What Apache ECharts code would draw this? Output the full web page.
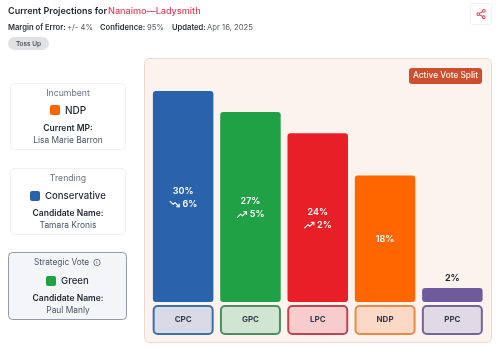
<!DOCTYPE html>
<html>
<head>
<meta charset="utf-8">
<style>
html, body { margin: 0; padding: 0; background: #fff; }
#chart { width: 500px; height: 352px; }
</style>
<script src="https://cdn.jsdelivr.net/npm/echarts@6/dist/echarts.min.js"></script>
</head>
<body>
<div id="chart"></div>
<script>
const parties = ['CPC', 'GPC', 'LPC', 'NDP', 'PPC'];
const shares = [30, 27, 24, 18, 2];
const changes = [6, 5, 2, null, null];
const trends = ['down', 'up', 'up', null, null];
const barColors = ['#2a62ac', '#20a146', '#e81f27', '#ff6600', '#6f5b9c'];
const boxColors = ['#d6dbe6', '#d0e5d2', '#f6cccc', '#fcd9c6', '#e0d9e6'];
const boxBorders = ['#3f6dab', '#4a8f62', '#bf4450', '#e88a44', '#75649c'];

const font = 'Inter';
const chart = echarts.init(document.getElementById('chart'));

function icon(points, tip) {
    const svg = '<svg xmlns="http://www.w3.org/2000/svg" width="24" height="24" viewBox="0 0 24 24" fill="none" stroke="white" stroke-width="2.4" stroke-linecap="round" stroke-linejoin="round">' +
        '<polyline points="' + points + '"/><polyline points="' + tip + '"/></svg>';
    return 'data:image/svg+xml;charset=utf-8,' + encodeURIComponent(svg);
}
const upIcon = icon('2 18 9 11 13 15 22 6', '16 6 22 6 22 12');
const downIcon = icon('2 6 9 13 13 9 22 18', '16 18 22 18 22 12');

function text(x, y, str, size, color, weight, align) {
    return {
        type: 'text', x: x, y: y, z: 10,
        style: { text: str, fontFamily: font, fontSize: size, fill: color, fontWeight: weight || 400, align: align || 'center', verticalAlign: 'middle' }
    };
}
function rect(x, y, w, h, r, fill, stroke, lineWidth, z) {
    return {
        type: 'rect', z: z === undefined ? 1 : z,
        shape: { x: x, y: y, width: w, height: h, r: r },
        style: { fill: fill, stroke: stroke || null, lineWidth: lineWidth || 0 }
    };
}

const shareStroke = { fill: 'none', stroke: '#d9485f', lineWidth: 2.2 };

const graphics = [
    // header
    text(8, 11, 'Current Projections for', 9, '#1f2430', 600, 'left'),
    text(108, 11, 'Nanaimo—Ladysmith', 9.1, '#e8405c', 500, 'left'),
    text(8, 28, 'Margin of Error:', 7.6, '#2b303b', 600, 'left'),
    text(67, 28, '+/- 4%', 7.7, '#555b66', 400, 'left'),
    text(100, 28, 'Confidence:', 7.6, '#2b303b', 600, 'left'),
    text(147, 28, '95%', 7.7, '#555b66', 400, 'left'),
    text(172, 28, 'Updated:', 7.6, '#2b303b', 600, 'left'),
    text(207, 28, 'Apr 16, 2025', 7.7, '#555b66', 400, 'left'),
    rect(8, 37, 41, 13, 6.5, '#dfe1e4'),
    text(28.5, 44, 'Toss Up', 6.5, '#3c424d', 500),
    // share button
    rect(470.5, 3.5, 21, 21, 2, '#fff', '#eef0f3', 1),
    {
        type: 'group', x: 475.5, y: 8.5, scaleX: 0.46, scaleY: 0.46,
        children: [
            { type: 'circle', z: 10, shape: { cx: 18, cy: 5, r: 3 }, style: shareStroke },
            { type: 'circle', z: 10, shape: { cx: 6, cy: 12, r: 3 }, style: shareStroke },
            { type: 'circle', z: 10, shape: { cx: 18, cy: 19, r: 3 }, style: shareStroke },
            { type: 'line', z: 10, shape: { x1: 8.6, y1: 13.5, x2: 15.4, y2: 17.5 }, style: shareStroke },
            { type: 'line', z: 10, shape: { x1: 15.4, y1: 6.5, x2: 8.6, y2: 10.5 }, style: shareStroke }
        ]
    },
    // chart panel
    rect(144.5, 58.5, 347, 284, 5, '#fdf3ee', '#eed8cf', 1, 0),
    rect(409, 68, 73, 16, 3, '#cd4f30', null, 0, 2),
    text(445.5, 76, 'Active Vote Split', 8.3, '#fff5ee', 500),
    // incumbent card
    rect(10.5, 83.5, 115, 66, 4, '#fff', '#eef0f3', 1),
    text(68, 93, 'Incumbent', 8.7, '#6b7280', 400),
    rect(50, 105, 10, 10, 2, '#ff6600'),
    text(65, 111, 'NDP', 10, '#1f2430', 500, 'left'),
    text(68, 128, 'Current MP:', 8.5, '#1f2430', 600),
    text(68, 140, 'Lisa Marie Barron', 8.4, '#4b5563', 400),
    // trending card
    rect(10.5, 168.5, 115, 66, 4, '#fff', '#eef0f3', 1),
    text(68, 178, 'Trending', 8.7, '#6b7280', 400),
    rect(30, 191, 10, 10, 2, '#2a62ac'),
    text(45, 196, 'Conservative', 9.6, '#1f2430', 500, 'left'),
    text(68, 213, 'Candidate Name:', 8.5, '#1f2430', 600),
    text(68, 225, 'Tamara Kronis', 8.4, '#4b5563', 400),
    // strategic card
    rect(8.5, 252.5, 118, 67, 4, '#f3f5f9', '#9399a8', 1),
    text(34, 263, 'Strategic Vote', 8.3, '#4b5563', 400, 'left'),
    { type: 'circle', z: 10, shape: { cx: 97, cy: 262.5, r: 3.2 }, style: { fill: 'none', stroke: '#5b6270', lineWidth: 0.8 } },
    text(97, 262.7, 'i', 5, '#5b6270', 500),
    rect(46, 276, 10, 10, 2, '#20a146'),
    text(61, 281, 'Green', 9.6, '#1f2430', 500, 'left'),
    text(68, 298, 'Candidate Name:', 8.5, '#1f2430', 600),
    text(68, 310, 'Paul Manly', 8.4, '#4b5563', 400)
];

// one rich style per party for the boxed axis labels
const axisRich = {};
parties.forEach(function (p, i) {
    axisRich[p] = {
        width: 57, height: 26, align: 'center', verticalAlign: 'middle',
        backgroundColor: boxColors[i], borderColor: boxBorders[i], borderWidth: 2, borderRadius: 3,
        fontFamily: font, fontSize: 8, fontWeight: 700, color: '#333a48'
    };
});

function barLabel(params) {
    const i = params.dataIndex;
    if (changes[i] === null) {
        return '{' + (i === 4 ? 'dark' : 'pct') + '|' + shares[i] + '%}';
    }
    return '{pct|' + shares[i] + '%}\n{' + trends[i] + '|}{chg| ' + changes[i] + '%}';
}

option = {
    animation: false,
    backgroundColor: '#fff',
    graphic: graphics,
    grid: { left: 149.5, right: 14, top: 91, bottom: 50 },
    xAxis: {
        type: 'category',
        data: parties,
        z: 5,
        axisLine: { show: false },
        axisTick: { show: false },
        splitLine: { show: false },
        axisLabel: {
            interval: 0,
            margin: 5,
            formatter: function (v) { return '{' + v + '|' + v + '}'; },
            rich: axisRich
        }
    },
    yAxis: {
        type: 'value',
        min: 0,
        max: 30,
        show: false
    },
    series: [{
        type: 'bar',
        z: 5,
        barWidth: 60.5,
        data: shares.map(function (v, i) {
            return {
                value: v,
                itemStyle: { color: barColors[i], borderRadius: 3 },
                label: { position: i === 4 ? 'top' : 'inside', distance: 4, offset: [0, 1] }
            };
        }),
        label: {
            show: true,
            formatter: barLabel,
            lineHeight: 13,
            rich: {
                pct: { fontFamily: font, fontSize: 9, fontWeight: 600, color: '#fff', lineHeight: 13 },
                dark: { fontFamily: font, fontSize: 9, fontWeight: 700, color: '#1f2430', lineHeight: 13 },
                chg: { fontFamily: font, fontSize: 9, fontWeight: 600, color: '#fff', lineHeight: 13 },
                up: { width: 11, height: 11, backgroundColor: { image: upIcon } },
                down: { width: 11, height: 11, backgroundColor: { image: downIcon } }
            }
        }
    }]
};
chart.setOption(option);

window.onresize = function () {
    chart.resize();
};
</script>
</body>
</html>
